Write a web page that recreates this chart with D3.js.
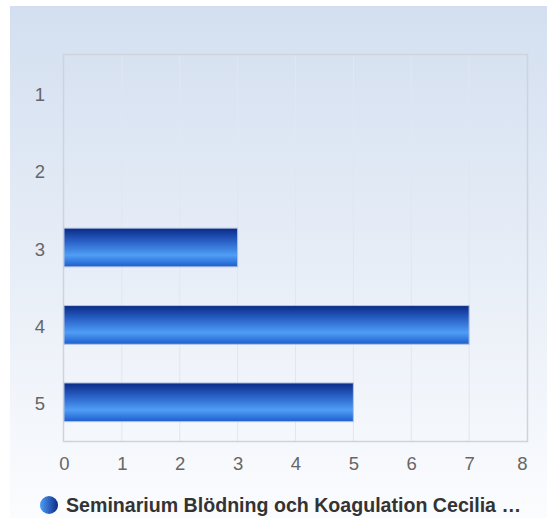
<!DOCTYPE html>
<html>
<head>
<meta charset="utf-8">
<script src="https://cdn.jsdelivr.net/npm/d3@7"></script>
<style>
  html, body { margin: 0; padding: 0; background: #fff; }
  svg { display: block; font-family: "Liberation Sans", Arial, sans-serif; }
</style>
</head>
<body>
<div id="chart"></div>
<script>
// data
const categories = ["1", "2", "3", "4", "5"];
const values = [0, 0, 3, 7, 5];
const xTicks = [0, 1, 2, 3, 4, 5, 6, 7, 8];
const seriesName = "Seminarium Blödning och Koagulation Cecilia …";

const width = 547, height = 518;
const margin = { top: 54, right: 20, bottom: 77, left: 64 };

const svg = d3.select("#chart").append("svg")
  .attr("width", width)
  .attr("height", height);

const defs = svg.append("defs");

// fondo
const bg = defs.append("linearGradient").attr("id", "bg")
  .attr("x1", 0).attr("y1", 0).attr("x2", 0).attr("y2", 1);
bg.append("stop").attr("offset", "0%").attr("stop-color", "#d3dff0");
bg.append("stop").attr("offset", "100%").attr("stop-color", "#fbfcfe");

const barGrad = defs.append("linearGradient").attr("id", "bar")
  .attr("x1", 0).attr("y1", 0).attr("x2", 0).attr("y2", 1);
barGrad.append("stop").attr("offset", "0%").attr("stop-color", "#0a2a86");
barGrad.append("stop").attr("offset", "35%").attr("stop-color", "#2a62c8");
barGrad.append("stop").attr("offset", "70%").attr("stop-color", "#4f9ef6");
barGrad.append("stop").attr("offset", "100%").attr("stop-color", "#1d5dcc");

const dotGrad = defs.append("linearGradient").attr("id", "dot")
  .attr("x1", 0).attr("y1", 0).attr("x2", 1).attr("y2", 0);
dotGrad.append("stop").attr("offset", "0%").attr("stop-color", "#4f9ef6");
dotGrad.append("stop").attr("offset", "100%").attr("stop-color", "#0a2a86");

svg.append("rect")
  .attr("x", 10).attr("y", 6)
  .attr("width", width - 10).attr("height", height - 6)
  .attr("fill", "url(#bg)");

const x = d3.scaleLinear()
  .domain([0, 8])
  .range([margin.left, width - margin.right]);

const y = d3.scaleBand()
  .domain(categories)
  .range([margin.top, height - margin.bottom])
  .paddingInner(0.5)
  .paddingOuter(0.25);

// grid
svg.append("g")
  .selectAll("line")
  .data(xTicks.slice(1, -1))
  .join("line")
  .attr("x1", d => x(d)).attr("x2", d => x(d))
  .attr("y1", margin.top).attr("y2", height - margin.bottom)
  .attr("stroke", "#e3e6ec")
  .attr("stroke-width", 1);

// borde
svg.append("rect")
  .attr("x", margin.left - 0.5)
  .attr("y", margin.top + 0.5)
  .attr("width", x(8) - margin.left + 1)
  .attr("height", height - margin.bottom - margin.top)
  .attr("fill", "none")
  .attr("stroke", "#cfd3da")
  .attr("stroke-width", 1.5);

// barras
svg.append("g")
  .selectAll("rect")
  .data(categories.map((c, i) => ({ c, v: values[i] })).filter(d => d.v > 0))
  .join("rect")
  .attr("x", x(0))
  .attr("y", d => y(d.c))
  .attr("width", d => x(d.v) - x(0))
  .attr("height", y.bandwidth())
  .attr("fill", "url(#bar)")
  .attr("stroke", "#b6c3e2")
  .attr("stroke-width", 1);

// ejes
const xAxis = d3.axisBottom(x).tickValues(xTicks).tickSize(0).tickPadding(14);
const gx = svg.append("g")
  .attr("transform", `translate(0,${height - margin.bottom})`)
  .call(xAxis);
gx.select(".domain").remove();
gx.selectAll("text")
  .attr("y", 29)
  .attr("dy", null)
  .attr("font-size", 18.5)
  .attr("fill", "#666")
  .attr("font-family", "Liberation Sans, Arial, sans-serif");
// la última etiqueta queda alineada a la derecha
gx.selectAll(".tick text")
  .filter(d => d === xTicks[xTicks.length - 1])
  .attr("text-anchor", "end")
  .attr("x", 0);

const yAxis = d3.axisLeft(y).tickSize(0).tickPadding(19);
const gy = svg.append("g")
  .attr("transform", `translate(${margin.left},0)`)
  .call(yAxis);
gy.select(".domain").remove();
gy.selectAll("text")
  .attr("dy", null)
  .attr("y", 8)
  .attr("font-size", 18.5)
  .attr("fill", "#666")
  .attr("font-family", "Liberation Sans, Arial, sans-serif");

// leyenda
const legend = svg.append("g").attr("transform", "translate(49,505)");
legend.append("circle")
  .attr("r", 9)
  .attr("fill", "url(#dot)");
legend.append("text")
  .attr("x", 17)
  .attr("y", 7)
  .attr("font-size", 19.6)
  .attr("font-weight", "bold")
  .attr("fill", "#333")
  .text(seriesName);
</script>
</body>
</html>
